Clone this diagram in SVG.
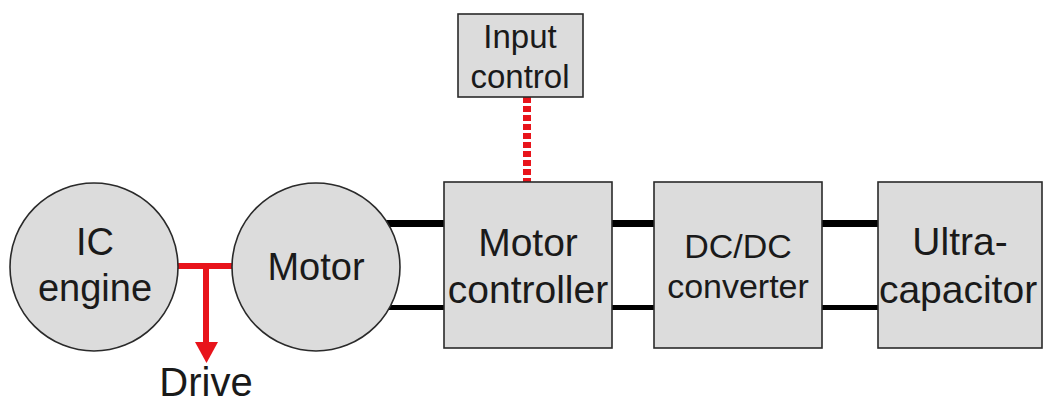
<svg xmlns="http://www.w3.org/2000/svg" width="1044" height="403" viewBox="0 0 1044 403">
<style>
.n{fill:#dcdcdc;stroke:#2a2a2a;stroke-width:1.6}
.t{font-family:"Liberation Sans",Arial,sans-serif;fill:#1a1a1a;text-anchor:middle}
.w{stroke:#000;fill:none}
</style>
<rect width="1044" height="403" fill="#fff"/>
<g id="connectors">
<line class="w" x1="385" y1="223.5" x2="445" y2="223.5" stroke-width="7"/>
<line class="w" x1="385" y1="307.5" x2="445" y2="307.5" stroke-width="5"/>
<line class="w" x1="612" y1="223.5" x2="655" y2="223.5" stroke-width="7"/>
<line class="w" x1="612" y1="307.5" x2="655" y2="307.5" stroke-width="5"/>
<line class="w" x1="822" y1="223.5" x2="879" y2="223.5" stroke-width="7"/>
<line class="w" x1="822" y1="307.5" x2="879" y2="307.5" stroke-width="5"/>
<line x1="527" y1="97" x2="527" y2="182" stroke="#e8141b" stroke-width="8" stroke-dasharray="6 3"/>
<line x1="176" y1="266" x2="236" y2="266" stroke="#e8141b" stroke-width="6"/>
<line x1="206" y1="266" x2="206" y2="345" stroke="#e8141b" stroke-width="6"/>
<polygon points="195,342 218,342 206.5,363" fill="#e8141b"/>
</g>
<g id="ic-engine">
<circle class="n" cx="94" cy="267" r="84"/>
<text class="t" x="95" y="255" font-size="38">IC</text>
<text class="t" x="95" y="301" font-size="38">engine</text>
</g>
<g id="motor">
<circle class="n" cx="316" cy="267" r="84"/>
<text class="t" x="316" y="280" font-size="38">Motor</text>
</g>
<g id="input-control">
<rect class="n" x="458" y="14" width="125" height="83"/>
<text class="t" x="520" y="48" font-size="33">Input</text>
<text class="t" x="520" y="88" font-size="33">control</text>
</g>
<g id="motor-controller">
<rect class="n" x="444" y="182" width="168" height="166"/>
<text class="t" x="528" y="256" font-size="39">Motor</text>
<text class="t" x="528" y="303" font-size="39">controller</text>
</g>
<g id="dcdc-converter">
<rect class="n" x="654" y="182" width="168" height="166"/>
<text class="t" x="738" y="258" font-size="34">DC/DC</text>
<text class="t" x="738" y="298" font-size="34">converter</text>
</g>
<g id="ultracapacitor">
<rect class="n" x="878" y="182" width="164" height="166"/>
<text class="t" x="960" y="255" font-size="39">Ultra-</text>
<text class="t" x="958" y="303" font-size="39">capacitor</text>
</g>
<g id="drive-label">
<text class="t" x="206" y="396" font-size="40">Drive</text>
</g>
</svg>
